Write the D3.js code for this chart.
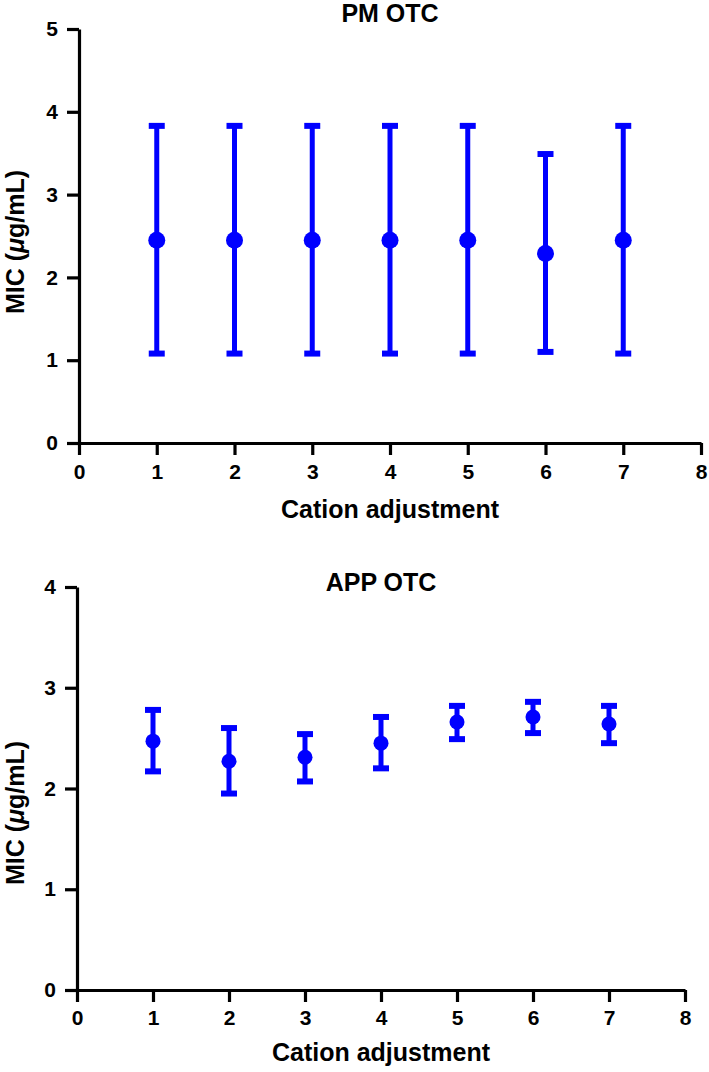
<!DOCTYPE html>
<html><head><meta charset="utf-8">
<script src="https://cdn.jsdelivr.net/npm/d3@7"></script>
<style>
html,body{margin:0;padding:0;background:#fff;}
svg text{font-family:"Liberation Sans",Arial,sans-serif;font-weight:bold;fill:#000;}
</style></head>
<body>
<svg id="chart" width="709" height="1072"></svg>
<script>
// ---- data ----
const categories = [1, 2, 3, 4, 5, 6, 7];
const xTicks = [0, 1, 2, 3, 4, 5, 6, 7, 8];

const pmTitle = "PM OTC";
const pmMean  = [2.45, 2.45, 2.45, 2.45, 2.45, 2.29, 2.45];
const pmLow   = [1.08, 1.08, 1.08, 1.08, 1.08, 1.10, 1.08];
const pmHigh  = [3.83, 3.83, 3.83, 3.83, 3.83, 3.49, 3.83];
const pmYTicks = [0, 1, 2, 3, 4, 5];

const appTitle = "APP OTC";
const appMean = [2.47, 2.27, 2.31, 2.45, 2.66, 2.71, 2.64];
const appLow  = [2.17, 1.95, 2.07, 2.20, 2.49, 2.55, 2.45];
const appHigh = [2.78, 2.60, 2.54, 2.71, 2.82, 2.86, 2.82];
const appYTicks = [0, 1, 2, 3, 4];

const xLabel = "Cation adjustment";

const svg = d3.select("#chart");

function panel(cfg) {
  const g = svg.append("g");
  const x = d3.scaleLinear().domain([0, 8]).range([cfg.x0, cfg.x1]);
  const y = d3.scaleLinear().domain([0, cfg.yMax]).range([cfg.y0, cfg.y1]);

  const xAxis = d3.axisBottom(x).tickValues(xTicks).tickFormat(d3.format("d"))
    .tickSize(12).tickSizeOuter(0).tickPadding(cfg.xPad);
  const yAxis = d3.axisLeft(y).tickValues(cfg.yTicks).tickFormat(d3.format("d"))
    .tickSize(12).tickSizeOuter(0).tickPadding(9);

  const gx = g.append("g").attr("transform", `translate(0,${cfg.y0})`).call(xAxis);
  const gy = g.append("g").attr("transform", `translate(${cfg.x0},0)`).call(yAxis);
  [gx, gy].forEach(a => {
    a.select(".domain").attr("stroke", "#000").attr("stroke-width", 3.2);
    a.selectAll(".tick line").attr("stroke", "#000").attr("stroke-width", 3.2);
    a.selectAll(".tick text").attr("font-size", 21).attr("font-family", "Liberation Sans, Arial, sans-serif").attr("font-weight", "bold");
  });

  // title
  g.append("text").attr("x", (cfg.x0 + cfg.x1) / 2).attr("y", cfg.titleY)
    .attr("text-anchor", "middle").attr("font-size", 25).text(cfg.title);
  // x label
  g.append("text").attr("x", (cfg.x0 + cfg.x1) / 2).attr("y", cfg.xLabelY)
    .attr("text-anchor", "middle").attr("font-size", 25).text(xLabel);
  // y label
  const yl = g.append("text")
    .attr("transform", `translate(${cfg.yLabelX},${cfg.yLabelY}) rotate(-90)`)
    .attr("text-anchor", "middle").attr("font-size", 25);
  yl.append("tspan").text("MIC (");
  yl.append("tspan").attr("font-style", "italic").text("\u03bc");
  yl.append("tspan").text("g/mL)");

  const blue = "#0000ff";
  const idx = d3.range(categories.length);
  // vertical lines
  g.selectAll(".eb").data(idx).join("line")
    .attr("x1", i => x(categories[i])).attr("x2", i => x(categories[i]))
    .attr("y1", i => y(cfg.low[i])).attr("y2", i => y(cfg.high[i]))
    .attr("stroke", blue).attr("stroke-width", 5);
  // caps
  ["low", "high"].forEach(k => {
    g.selectAll(".cap-" + k).data(idx).join("line")
      .attr("x1", i => x(categories[i]) - 8).attr("x2", i => x(categories[i]) + 8)
      .attr("y1", i => y(cfg[k][i])).attr("y2", i => y(cfg[k][i]))
      .attr("stroke", blue).attr("stroke-width", 6);
  });
  // points
  g.selectAll(".pt").data(idx).join("circle")
    .attr("cx", i => x(categories[i])).attr("cy", i => y(cfg.mean[i]))
    .attr("r", cfg.r).attr("fill", blue);
}

panel({title: pmTitle, mean: pmMean, low: pmLow, high: pmHigh, yTicks: pmYTicks, yMax: 5,
  x0: 79, x1: 701, y0: 443, y1: 29, titleY: 22, xLabelY: 518, xPad: 9,
  yLabelX: 24, yLabelY: 242, r: 8.5});
panel({title: appTitle, mean: appMean, low: appLow, high: appHigh, yTicks: appYTicks, yMax: 4,
  x0: 77, x1: 685, y0: 990, y1: 587, titleY: 591, xLabelY: 1061, xPad: 8,
  yLabelX: 24, yLabelY: 813, r: 7.5});
</script>
</body></html>
